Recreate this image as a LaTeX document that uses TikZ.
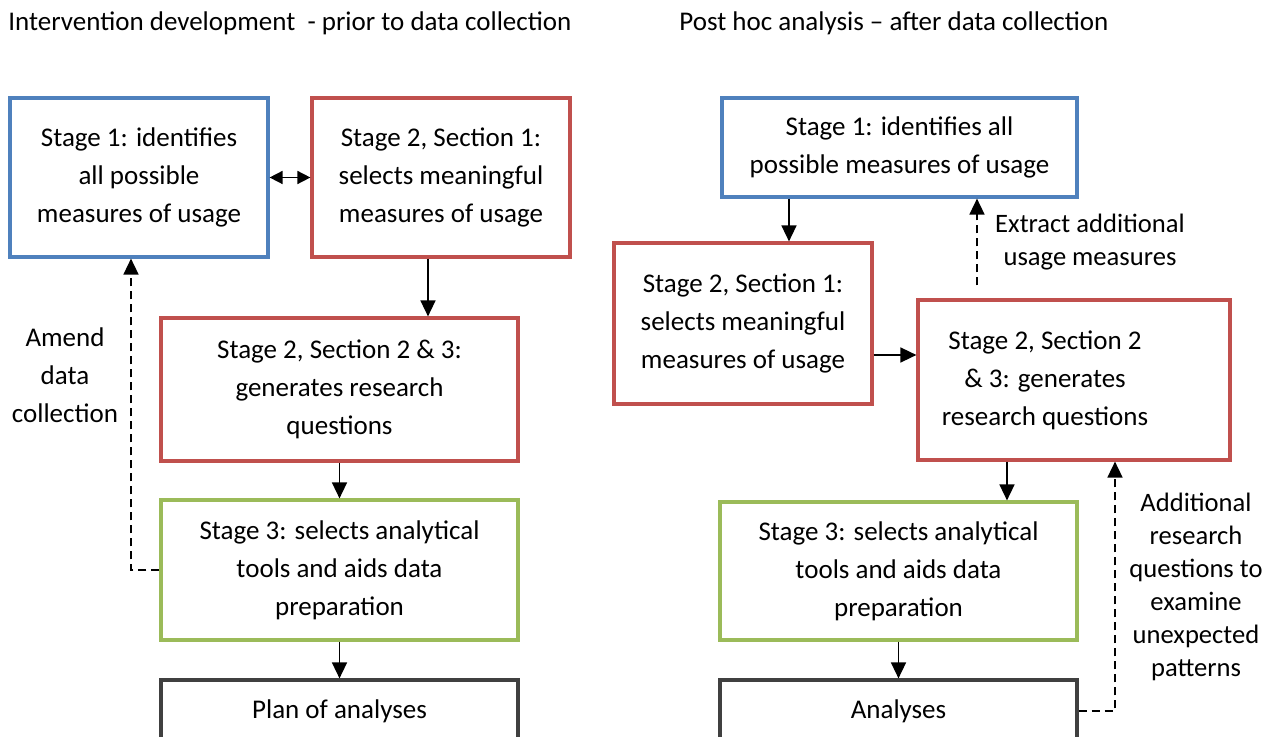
\documentclass[tikz,border=0pt]{standalone}
\usepackage{fontspec}
\setmainfont{Carlito}
\usetikzlibrary{arrows.meta}
\definecolor{stageblue}{RGB}{79,129,189}
\definecolor{stagered}{RGB}{192,80,77}
\definecolor{stagegreen}{RGB}{155,187,89}
\definecolor{stagegray}{RGB}{64,64,64}
\tikzset{
  stagebox/.style={draw, line width=1.6pt, align=center, inner sep=0pt,
    font=\fontsize{13.5}{19}\selectfont},
  note/.style={align=center, inner sep=0pt, font=\fontsize{13.3}{16.5}\selectfont},
  flow/.style={line width=0.8pt, -{Triangle[length=8pt,width=7.5pt]}},
  back/.style={flow, dash pattern=on 4pt off 2.5pt}
}
\begin{document}
\begin{tikzpicture}[x=0.5pt, y=-0.5pt]
        \clip (0,0) rectangle (1266,737);
        \fill[white] (0,0) rectangle (1266,737);

        % headings
        \node[anchor=west, inner sep=0pt, font=\fontsize{13.5}{16}\selectfont] (headL) at (8,23) {Intervention development \ - prior to data collection};
        \node[anchor=west, inner sep=0pt, font=\fontsize{13.5}{16}\selectfont] (headR) at (679,23) {Post hoc analysis -- after data collection};

        % left: intervention development
        \node[stagebox, draw=stageblue, minimum width=129pt, minimum height=79.5pt] (L1) at (139,177.5) {Stage 1: identifies\\ all possible\\ measures of usage};
        \node[stagebox, draw=stagered, minimum width=129pt, minimum height=79.5pt] (L2) at (441,177.5) {Stage 2, Section 1:\\ selects meaningful\\ measures of usage};
        \node[stagebox, draw=stagered, minimum width=178.5pt, minimum height=71.5pt] (L3) at (339.5,389.5) {Stage 2, Section 2 \& 3:\\ generates research\\ questions};
        \node[stagebox, draw=stagegreen, minimum width=178.5pt, minimum height=70pt] (L4) at (339.5,570) {Stage 3: selects analytical\\ tools and aids data\\ preparation};
        \node[stagebox, draw=stagegray, minimum width=178.5pt, minimum height=31pt] (L5) at (339.5,711) {Plan of analyses};
        \node[note, font=\fontsize{13.5}{19}\selectfont] (amend) at (65,375) {Amend\\ data\\ collection};

        \draw[line width=0.8pt, {Triangle[length=6.5pt,width=6.5pt]}-{Triangle[length=6.5pt,width=6.5pt]}] (L1.east) -- (L2.west);
        \draw[flow] ([xshift=-6.5pt]L2.south) -- ([xshift=-6.5pt]L2.south |- L3.north);
        \draw[flow] (L3) -- (L4);
        \draw[flow] (L4) -- (L5);
        \draw[back] (L4.west) -| ([xshift=-4pt]L1.south);

        % right: post hoc analysis
        \node[stagebox, draw=stageblue, minimum width=177.5pt, minimum height=49.5pt] (R1) at (899.5,147.5) {Stage 1: identifies all\\ possible measures of usage};
        \node[stagebox, draw=stagered, minimum width=129pt, minimum height=80.5pt] (R2) at (743,323.5) {Stage 2, Section 1:\\ selects meaningful\\ measures of usage};
        \node[stagebox, draw=stagered, minimum width=156pt, minimum height=80pt] (R3) at (1074,380) {};
        \node[stagebox, draw=none] (R3text) at (1045,380) {Stage 2, Section 2\\ \& 3: generates\\ research questions};
        \node[stagebox, draw=stagegreen, minimum width=178.5pt, minimum height=69pt] (R4) at (898.5,571) {Stage 3: selects analytical\\ tools and aids data\\ preparation};
        \node[stagebox, draw=stagegray, minimum width=178.5pt, minimum height=31pt] (R5) at (898.5,711) {Analyses};
        \node[note] (extract) at (1090,242) {Extract additional\\ usage measures};
        \node[note] (additional) at (1196,587) {Additional\\ research\\ questions to\\ examine\\ unexpected\\ patterns};

        \coordinate (up) at ([xshift=-48.5pt,yshift=6.5pt]R3.north);
        \draw[flow] ([xshift=-55.25pt]R1.south) -- ([xshift=-55.25pt]R1.south |- R2.north);
        \draw[flow] ([yshift=-15.75pt]R2.east) -- ([yshift=-15.75pt]R2.east -| R3.west);
        \draw[back] (up) -- (up |- R1.south);
        \draw[flow] ([xshift=-33.5pt]R3.south) -- ([xshift=-33.5pt]R3.south |- R4.north);
        \draw[flow] (R4) -- (R5);
        \draw[back] (R5.east) -| ([xshift=20.5pt]R3.south);
    \end{tikzpicture}
\end{document}
